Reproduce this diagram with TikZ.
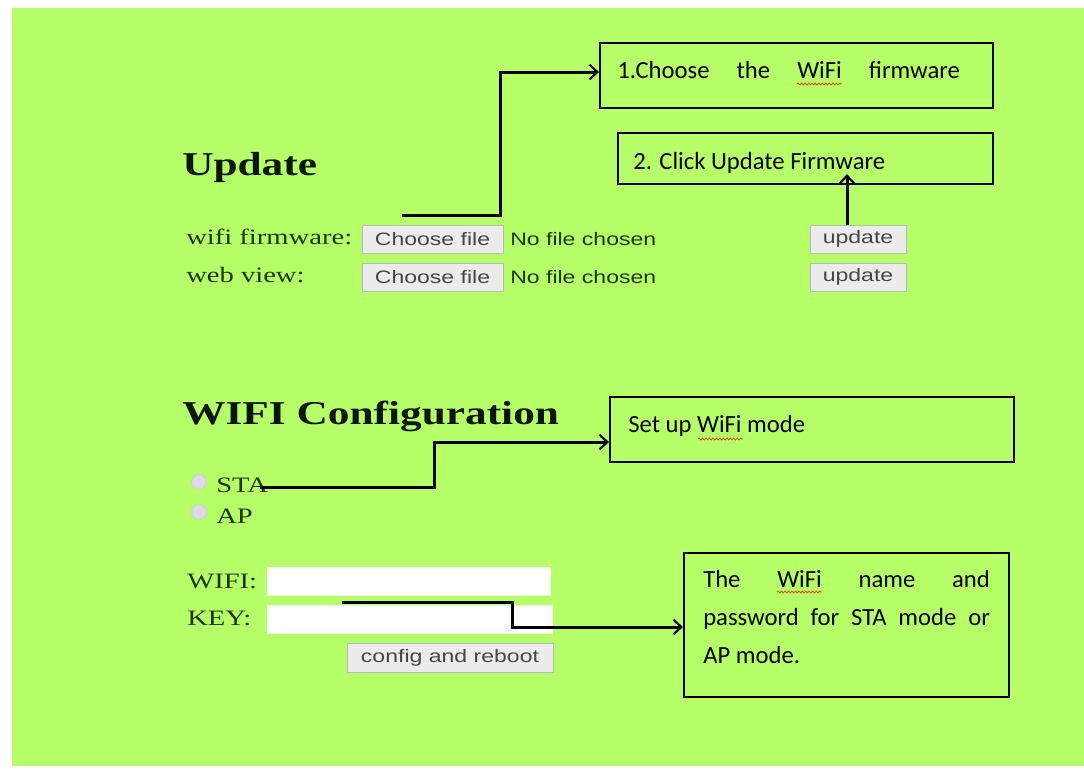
\documentclass[tikz,border=0pt]{standalone}
\usepackage{fontspec}
\setmainfont{Carlito}
\newfontfamily\webserif[FakeStretch=1.3]{Liberation Serif}
\newfontfamily\websans[FakeStretch=1.28]{Liberation Sans}
\usetikzlibrary{arrows.meta,decorations.pathmorphing}
\definecolor{bg}{RGB}{182,255,104}
\definecolor{webtxt}{RGB}{30,55,15}
\definecolor{webhead}{RGB}{12,22,6}
\definecolor{btnfill}{RGB}{236,236,236}
\definecolor{btnline}{RGB}{185,185,185}
\definecolor{btntxt}{RGB}{70,70,70}
\definecolor{radio}{RGB}{222,216,236}
\definecolor{spell}{RGB}{215,70,20}
\begin{document}
\begin{tikzpicture}[x=0.75pt,y=-0.75pt,
  callout/.style={draw=black, line width=1.5pt, inner sep=0pt},
  ctext/.style={anchor=base west, inner sep=0pt, text=black, font=\fontsize{18.5}{22}\selectfont},
  wtext/.style={anchor=base west, inner sep=0pt, text=webtxt, font=\webserif\fontsize{16.5}{19}\selectfont},
  wsans/.style={anchor=base west, inner sep=0pt, text=webtxt, font=\websans\fontsize{13.5}{16}\selectfont},
  whead/.style={anchor=base west, inner sep=0pt, text=webhead, font=\webserif\bfseries\fontsize{25}{28}\selectfont},
  wbtn/.style={draw=btnline, fill=btnfill, line width=0.75pt, inner sep=0pt, text=btntxt, font=\websans\fontsize{13.5}{16}\selectfont, minimum height=21pt},
  winput/.style={draw=white!90!gray, fill=white, line width=0.75pt, inner sep=0pt, minimum height=21pt},
  radiobtn/.style={circle, draw=radio!85!gray, fill=radio, line width=0.5pt, inner sep=0pt, minimum size=11pt},
  arr/.style={line width=2.25pt, -{Straight Barb[length=6pt,width=11pt,line width=1.6pt]}},
  wavy/.style={draw=spell, line width=0.6pt, decorate, decoration={snake, amplitude=0.7pt, segment length=2.6pt}}
]
\useasboundingbox (0,0) rectangle (1084,774);
\fill[white] (0,0) rectangle (1084,774);
\fill[bg] (12,8) rectangle (1084,766);

% ---------- Update section ----------
\node[whead] (hupdate) at (182,175) {Update};
\node[wtext] (lwifi) at (186,244) {wifi firmware:};
\node[wtext] (lweb) at (186,282) {web view:};
\node[wbtn, minimum width=105.75pt] (choose1) at (432.5,239) {Choose file};
\node[wbtn, minimum width=105.75pt] (choose2) at (432.5,277) {Choose file};
\node[wsans] (nofile1) at (510,245) {No file chosen};
\node[wsans] (nofile2) at (510,283) {No file chosen};
\node[wbtn, minimum width=72pt] (upd1) at (858,239) {update};
\node[wbtn, minimum width=72pt] (upd2) at (858,277) {update};

% ---------- WIFI configuration ----------
\node[whead] (hwifi) at (182,424) {WIFI Configuration};
\node[radiobtn] (rsta) at (199,482) {};
\node[radiobtn] (rap) at (199,512) {};
\node[wtext] (lsta) at (216,492) {STA};
\node[wtext] (lap) at (216,523) {AP};
\node[wtext] (lwifiname) at (187,588) {WIFI:};
\node[wtext] (lkey) at (187,625) {KEY:};
\node[winput, minimum width=212.25pt] (in1) at (408.5,581) {};
\node[winput, minimum width=213.75pt] (in2) at (409.5,619) {};
\node[wbtn, minimum width=154.5pt, minimum height=21.75pt] (cfg) at (450,657.5) {config and reboot};

% ---------- callouts ----------
\node[callout, minimum width=294.75pt, minimum height=48.75pt] (box1) at (796.5,75.5) {};
\node[ctext] (t1) at (617,79) {\makebox[257pt][s]{1.Choose the WiFi firmware}};
\draw[wavy] (797,84) -- (842,84);

\node[callout, minimum width=281.25pt, minimum height=38.25pt] (box2) at (805.5,158.5) {};
\node[ctext] (t2) at (633,169) {2. Click Update Firmware};

\node[callout, minimum width=303pt, minimum height=48.75pt] (box3) at (812,429.5) {};
\node[ctext] (t3) at (628,432) {Set up WiFi mode};
\draw[wavy] (698,439) -- (743,439);

\node[callout, minimum width=243.75pt, minimum height=108pt] (box4) at (846.5,625) {};
\node[ctext, font=\fontsize{18.5}{28.5}\selectfont] (t4) at (703,587)
  {\parbox[t]{215pt}{\makebox[215pt][s]{The WiFi name and}\\
   \makebox[215pt][s]{password for STA mode or}\\
   AP mode.}};
\draw[wavy] (777,592) -- (822,592);

% ---------- connectors ----------
\coordinate (s1) at (402,215);
\draw[arr] (s1) -- (500,215) |- ([yshift=2.6pt]box1.west);

\coordinate (tip2) at (847,174);
\draw[arr] (upd1.north -| tip2) -- (tip2);

\coordinate (s3) at (260,487);
\draw[arr] (s3) -- (434,487) |- ([yshift=-9.4pt]box3.west);

\coordinate (s4) at (342,602);
\draw[arr] (s4) -- (512,602) |- ([yshift=-1.5pt]box4.west);
\end{tikzpicture}
\end{document}
